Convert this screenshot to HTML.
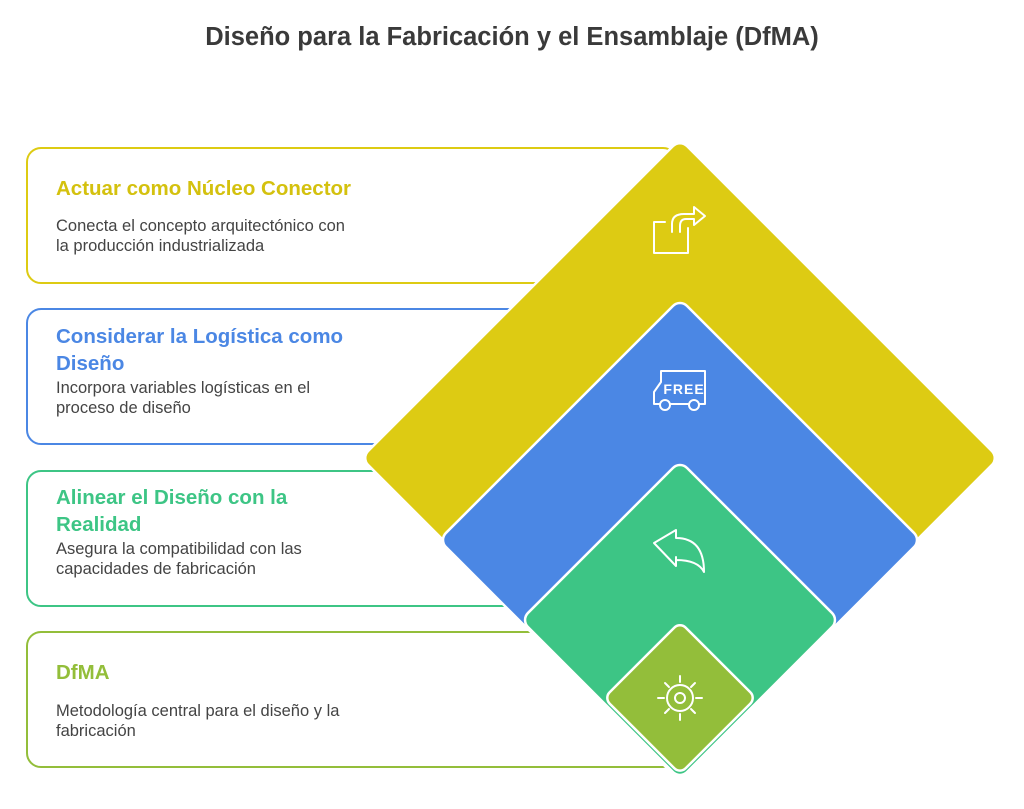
<!DOCTYPE html>
<html><head><meta charset="utf-8"><style>
body{margin:0;background:#fff;}
svg{display:block;font-family:"Liberation Sans",sans-serif;}
</style></head><body>
<svg width="1024" height="809" viewBox="0 0 1024 809" xmlns="http://www.w3.org/2000/svg">
<text x="512" y="45" text-anchor="middle" font-size="25.5" font-weight="bold" fill="#3a3a3a">Diseño para la Fabricación y el Ensamblaje (DfMA)</text>

<rect x="27" y="148" width="650" height="135" rx="14" fill="#fff" stroke="#DDCB13" stroke-width="2"/>
<rect x="27" y="309" width="650" height="135" rx="14" fill="#fff" stroke="#4B87E4" stroke-width="2"/>
<rect x="27" y="471" width="650" height="135" rx="14" fill="#fff" stroke="#3DC585" stroke-width="2"/>
<rect x="27" y="632" width="650" height="135" rx="14" fill="#fff" stroke="#93BE3A" stroke-width="2"/>

<g font-size="20.5" font-weight="bold">
<text x="56" y="195" fill="#D4C10E">Actuar como Núcleo Conector</text>
<text x="56" y="343" fill="#4B87E4">Considerar la Logística como</text>
<text x="56" y="370" fill="#4B87E4">Diseño</text>
<text x="56" y="504" fill="#3DC585">Alinear el Diseño con la</text>
<text x="56" y="531" fill="#3DC585">Realidad</text>
<text x="56" y="679" fill="#93BE3A">DfMA</text>
</g>
<g font-size="16.5" fill="#444">
<text x="56" y="231">Conecta el concepto arquitectónico con</text>
<text x="56" y="251">la producción industrializada</text>
<text x="56" y="393">Incorpora variables logísticas en el</text>
<text x="56" y="413">proceso de diseño</text>
<text x="56" y="554">Asegura la compatibilidad con las</text>
<text x="56" y="574">capacidades de fabricación</text>
<text x="56" y="716">Metodología central para el diseño y la</text>
<text x="56" y="736">fabricación</text>
</g>

<g stroke="#fff" stroke-width="2.5">
<rect x="454.5" y="232.5" width="451" height="451" rx="10" fill="#DDCB13" transform="rotate(45 680 458)"/>
<rect x="509.5" y="369.5" width="341" height="341" rx="10" fill="#4B87E4" transform="rotate(45 680 540)"/>
<rect x="567.5" y="507.5" width="225" height="225" rx="10" fill="#3DC585" transform="rotate(45 680 620)"/>
<rect x="626.2" y="644.2" width="107.5" height="107.5" rx="8" fill="#93BE3A" transform="rotate(45 680 698)"/>
</g>

<g fill="none" stroke="#fff" stroke-width="2" stroke-linecap="round" stroke-linejoin="round">
<path d="M665 222 H654 V253 H688 V228"/>
<path d="M672 232 V224 Q672 214 684 214 H694 V207 L705 216 L694 225 V219 H686 Q680 219 680 226 V232"/>
<path d="M654 404 V392 L661 382 V371 H705 V404 Z"/>
<circle cx="665" cy="405" r="5" fill="#4B87E4"/><circle cx="694" cy="405" r="5" fill="#4B87E4"/>
<path d="M654 543 L676 530 V538 Q704 538 704 572 Q698 560 676 560 V557 V566 Z"/>
<circle cx="680" cy="698" r="5"/><circle cx="680" cy="698" r="13"/>
<path d="M680 676v6M680 714v6M658 698h6M696 698h6M665 683l4 4M695 683l-4 4M665 713l4-4M695 713l-4-4"/>
</g>
<text x="684" y="394" text-anchor="middle" font-size="14" font-weight="bold" fill="#fff" letter-spacing="1">FREE</text>
</svg>
</body></html>
